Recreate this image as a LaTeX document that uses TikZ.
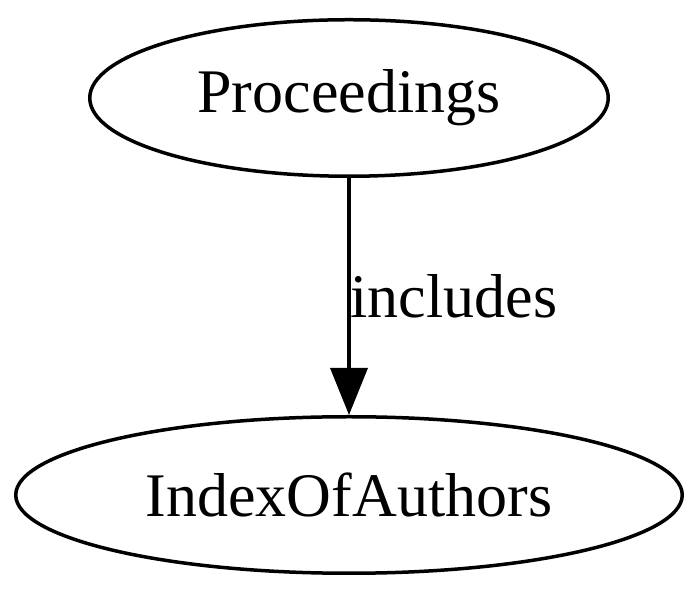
\documentclass[tikz,border=0pt]{standalone}
\usepackage{fontspec}
\setmainfont{Liberation Serif}
\usepackage{tikz}
\usetikzlibrary{shapes.geometric, arrows.meta, positioning}

\begin{document}
\begin{tikzpicture}[
  x=1pt, y=1pt,
  entity/.style={ellipse, draw, line width=3.5pt, inner sep=0pt, minimum height=156.5pt, font=\fontsize{62}{74}\selectfont},
  arrow/.style={-{Triangle[length=47pt, width=37pt]}, line width=3.5pt}
]
\useasboundingbox (0,0) rectangle (700,593);
\node[entity, minimum width=518.5pt] (proceedings) at (349, 495) {Proceedings};
\node[entity, minimum width=666.5pt] (index) at (349, 98) {IndexOfAuthors};

\draw[arrow] (proceedings) -- node[midway, right, inner sep=0pt, font=\fontsize{62}{74}\selectfont] {includes} (index);
\end{tikzpicture}
\end{document}
